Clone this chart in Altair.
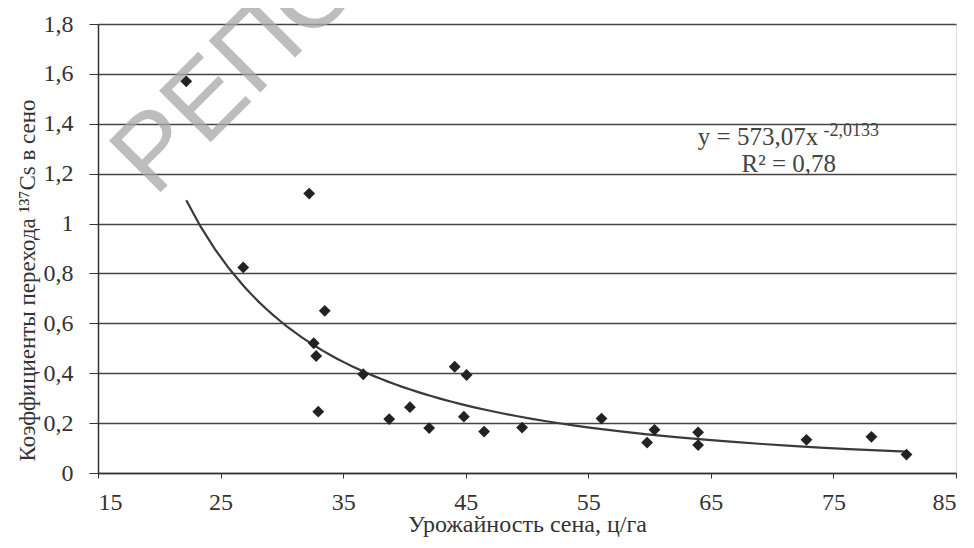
import altair as alt
import pandas as pd

# Data
yield_x = [22.2, 26.85, 32.23, 33.5, 32.6, 32.8, 32.97, 36.64, 38.76, 40.45, 42.02, 44.1,
           45.07, 44.85, 46.5, 49.6, 56.08, 60.4, 59.8, 63.96, 63.96, 72.8, 78.1, 80.96]
coef_y = [1.57, 0.824, 1.12, 0.65, 0.52, 0.469, 0.246, 0.396, 0.216, 0.264, 0.18, 0.426,
          0.393, 0.226, 0.166, 0.182, 0.218, 0.173, 0.122, 0.163, 0.112, 0.133, 0.145, 0.074]

x_ticks = [15, 25, 35, 45, 55, 65, 75, 85]
y_ticks = [0, 0.2, 0.4, 0.6, 0.8, 1.0, 1.2, 1.4, 1.6, 1.8]

eq_main = "y = 573,07x"
eq_exp = "-2,0133"
eq_r2 = "R² = 0,78"
watermark = "РЕПОЗИТОРИЙ"

x_title = "Урожайность сена, ц/га"
y_title = "Коэффициенты перехода ¹³⁷Cs в сено"

df = pd.DataFrame({"x": yield_x, "y": coef_y})

FONT = "Liberation Serif"
INK = "#333333"

xs = alt.Scale(domain=[15, 85], nice=False, zero=False)
ys = alt.Scale(domain=[0, 1.8], nice=False, zero=False)

x_axis = alt.Axis(values=x_ticks, grid=False, title=x_title, labelFont=FONT,
                  labelFontSize=24, labelColor=INK, labelPadding=12, tickSize=5,
                  tickColor=INK, domainColor=INK, domainWidth=1.5,
                  titleFont=FONT, titleFontSize=24, titleFontWeight="normal",
                  titleColor=INK, titleY=58, titleBaseline="alphabetic")
y_axis = alt.Axis(values=y_ticks, grid=True, gridColor="#444444", gridWidth=1.5,
                  title=y_title, labelFont=FONT, labelFontSize=24, labelColor=INK,
                  labelPadding=16, tickSize=9, tickColor=INK, domainColor=INK,
                  domainWidth=1.5,
                  labelExpr="replace(format(datum.value, '~g'), '.', ',')",
                  titleFont=FONT, titleFontSize=23, titleFontWeight="normal",
                  titleColor=INK, titleX=-64, titleY=256, titleBaseline="alphabetic")

base = alt.Chart(df)

points = base.mark_point(shape="diamond", filled=True, size=140, color="#222222",
                         opacity=1).encode(
    x=alt.X("x:Q", scale=xs, axis=x_axis),
    y=alt.Y("y:Q", scale=ys, axis=y_axis),
)

trend = base.transform_regression("x", "y", method="pow").mark_line(
    color="#3a3a3a", strokeWidth=2.2).encode(
    x=alt.X("x:Q", scale=xs), y=alt.Y("y:Q", scale=ys))


def label(t, x, y, size):
    return alt.Chart(pd.DataFrame({"x": [x], "y": [y], "t": [t]})).mark_text(
        font=FONT, fontSize=size, align="left", baseline="alphabetic",
        color="#444444").encode(
        x=alt.X("x:Q", scale=xs), y=alt.Y("y:Q", scale=ys), text="t:N")


t_main = label(eq_main, 63.94, 1.315, 25)
t_exp = label(eq_exp, 74.2, 1.35, 18)
t_r2 = label(eq_r2, 67.5, 1.205, 25)

wm = alt.Chart(pd.DataFrame({"x": [19.6], "y": [1.10], "t": [watermark]})).mark_text(
    font="Liberation Sans", fontSize=106, angle=315, align="left",
    baseline="alphabetic", color="#a8a8a8", opacity=0.75).encode(
    x=alt.X("x:Q", scale=xs), y=alt.Y("y:Q", scale=ys), text="t:N")

chart = alt.layer(wm, trend, points, t_main, t_exp, t_r2).properties(
    width=858, height=449,
    autosize=alt.AutoSizeParams(type="none"),
    padding={"left": 90, "top": 16, "right": 10, "bottom": 65},
).configure_view(stroke=INK, strokeWidth=1.5).configure(background="white")

chart.save("out.html", embed_options={"renderer": "svg", "actions": False})
